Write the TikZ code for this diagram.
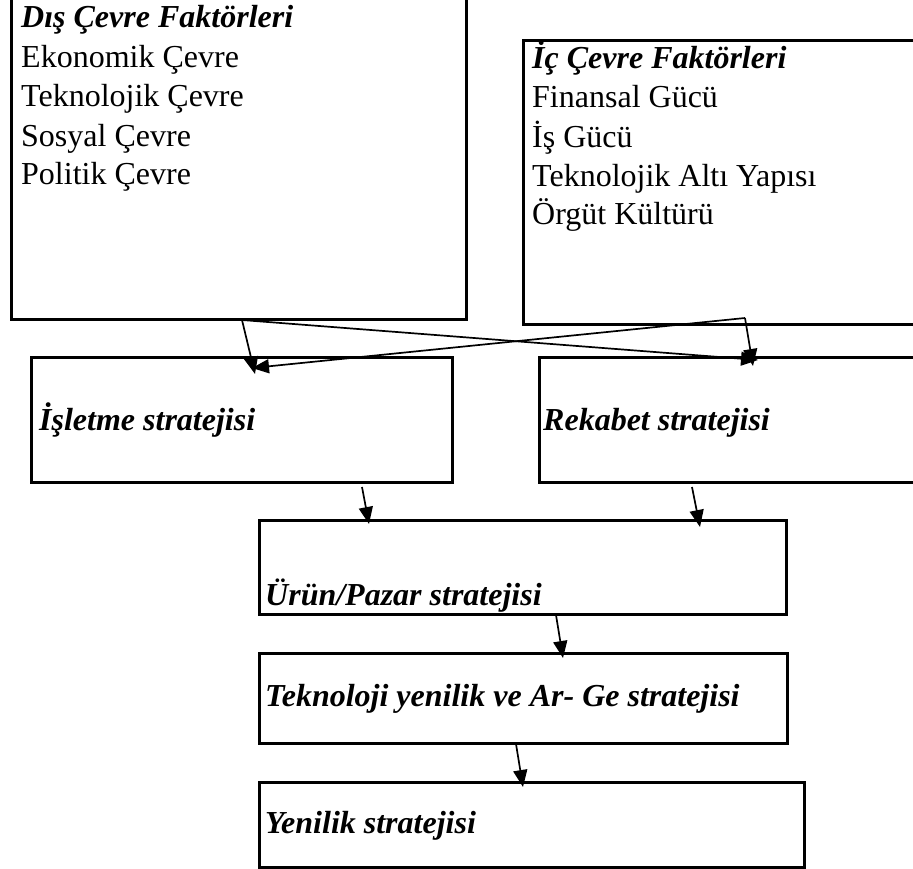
\documentclass[tikz,border=0pt]{standalone}
\usepackage{fontspec}
\setmainfont{Liberation Serif}
\usetikzlibrary{arrows.meta}
\begin{document}
\begin{tikzpicture}[x=1pt,y=-1pt,
  box/.style={draw,line width=2.8pt,inner sep=0pt,anchor=north west},
  txt/.style={anchor=base west,inner sep=0pt,font=\fontsize{32}{38}\selectfont},
  htxt/.style={txt,font=\fontsize{32}{38}\selectfont\bfseries\itshape},
  arr/.style={line width=1.7pt,-{Triangle[length=17pt,width=14pt]}},
  ln/.style={line width=1.7pt}]
\useasboundingbox (0,0) rectangle (913,868);
\clip (0,0) rectangle (913,868);
% boxes
\node[box,minimum width=455pt,minimum height=325pt] (dis) at (10,-7) {};
\node[box,minimum width=400pt,minimum height=284pt] (ic) at (522,39) {};
\node[box,minimum width=421pt,minimum height=125pt] (isl) at (30,356) {};
\node[box,minimum width=390pt,minimum height=125pt] (rek) at (538,356) {};
\node[box,minimum width=527pt,minimum height=94pt] (urun) at (258,519) {};
\node[box,minimum width=528pt,minimum height=90pt] (tek) at (258,652) {};
\node[box,minimum width=545pt,minimum height=85pt] (yen) at (258,781) {};
% texts
\node[htxt] (d0) at (21,27) {Dış Çevre Faktörleri};
\node[txt] (d1) at (21,67) {Ekonomik Çevre};
\node[txt] (d2) at (21,106) {Teknolojik Çevre};
\node[txt] (d3) at (21,146) {Sosyal Çevre};
\node[txt] (d4) at (21,184) {Politik Çevre};
\node[htxt] (i0) at (532,68) {İç Çevre Faktörleri};
\node[txt] (i1) at (532,107) {Finansal Gücü};
\node[txt] (i2) at (532,147) {İş Gücü};
\node[txt] (i3) at (532,186) {Teknolojik Altı Yapısı};
\node[txt] (i4) at (532,224) {Örgüt Kültürü};
\node[htxt] (t3) at (39,430) {İşletme stratejisi};
\node[htxt] (t4) at (543,430) {Rekabet stratejisi};
\node[htxt] (t5) at (265,605) {Ürün/Pazar stratejisi};
\node[htxt] (t6) at (265,706) {Teknoloji yenilik ve Ar- Ge stratejisi};
\node[htxt] (t7) at (265,833) {Yenilik stratejisi};
% connector points
\coordinate (sL) at (242,320);
\coordinate (sR) at (745,318);
\coordinate (eL) at (255,374);
\coordinate (eLx) at (252,368);
\coordinate (eR) at (753,366);
\coordinate (eRx) at (758,360);
\coordinate (a1) at (362,487);
\coordinate (b1) at (369,524);
\coordinate (a2) at (692,487);
\coordinate (b2) at (700,527);
\coordinate (a3) at (556,615);
\coordinate (b3) at (563,658);
\coordinate (a4) at (516,744);
\coordinate (b4) at (523,787);
\draw[arr] (sL) -- (eL);
\draw[arr] (sL) -- (eRx);
\draw[arr] (sR) -- (eR);
\draw[arr] (sR) -- (eLx);
\draw[arr] (a1) -- (b1);
\draw[arr] (a2) -- (b2);
\draw[arr] (a3) -- (b3);
\draw[arr] (a4) -- (b4);
\end{tikzpicture}
\end{document}
